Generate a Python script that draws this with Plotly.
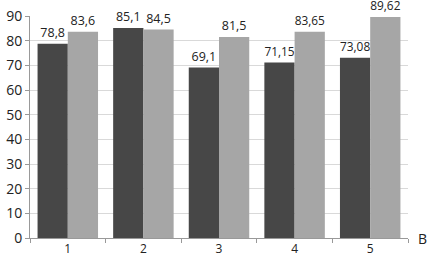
import plotly.graph_objects as go

categories = ["1", "2", "3", "4", "5"]
series_a = [78.8, 85.1, 69.1, 71.15, 73.08]
series_b = [83.6, 84.5, 81.5, 83.65, 89.62]
labels_a = ["78,8", "85,1", "69,1", "71,15", "73,08"]
labels_b = ["83,6", "84,5", "81,5", "83,65", "89,62"]
y_ticks = [0, 10, 20, 30, 40, 50, 60, 70, 80, 90]

font = dict(family="Open Sans, DejaVu Sans, sans-serif", size=12.5, color="#222222")

fig = go.Figure()
fig.add_trace(go.Bar(x=categories, y=series_a, text=labels_a, textposition="outside",
                     marker=dict(color="#474747", line=dict(width=0)),
                     textfont=font, cliponaxis=False))
fig.add_trace(go.Bar(x=categories, y=series_b, text=labels_b, textposition="outside",
                     marker=dict(color="#a6a6a6", line=dict(width=0)),
                     textfont=font, cliponaxis=False))

fig.update_layout(
    width=428, height=256,
    margin=dict(l=30, r=20, t=16, b=18, autoexpand=False),
    paper_bgcolor="white", plot_bgcolor="white",
    barmode="group", bargap=0.2, bargroupgap=0,
    showlegend=False,
    font=font,
    xaxis=dict(type="category", tickson="boundaries", ticks="outside", ticklen=4,
               tickcolor="#999999", showline=True, linecolor="#999999", linewidth=1,
               showgrid=False, tickfont=dict(size=12), automargin=False),
    yaxis=dict(range=[0, 90], tickvals=y_ticks, ticks="outside", ticklen=4,
               tickcolor="#999999", showline=True, linecolor="#999999", linewidth=1,
               showgrid=True, gridcolor="#d9d9d9", gridwidth=1, zeroline=False,
               tickfont=dict(size=14), automargin=False),
    annotations=[dict(text="B", xref="paper", yref="paper", x=1.0, y=0, xshift=14,
                      xanchor="center", yanchor="middle", showarrow=False,
                      font=dict(size=14, color="#222222"))],
)

fig.write_html("out.html", config={"displayModeBar": False},
               post_script="document.body.style.margin='0';document.body.style.overflow='hidden';")
